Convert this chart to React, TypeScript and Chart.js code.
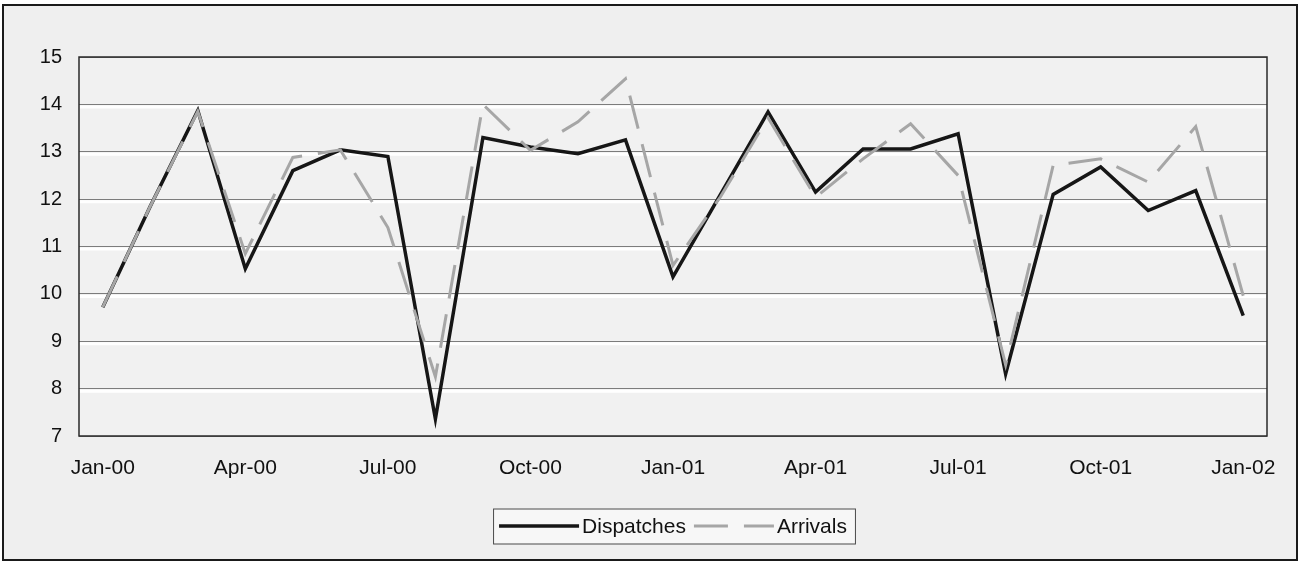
import React, { useEffect, useRef } from "react";
import { Chart, registerables } from "chart.js";

Chart.register(...registerables);

// ---- Data ----
const months: string[] = [
  "Jan-00", "Feb-00", "Mar-00", "Apr-00", "May-00", "Jun-00", "Jul-00", "Aug-00", "Sep-00", "Oct-00", "Nov-00", "Dec-00",
  "Jan-01", "Feb-01", "Mar-01", "Apr-01", "May-01", "Jun-01", "Jul-01", "Aug-01", "Sep-01", "Oct-01", "Nov-01", "Dec-01",
  "Jan-02",
];

const dispatches: number[] = [
  9.72, 11.85, 13.87, 10.53, 12.6, 13.04, 12.9, 7.36, 13.3, 13.1, 12.96, 13.25,
  10.36, 12.1, 13.84, 12.15, 13.06, 13.06, 13.38, 8.31, 12.1, 12.68, 11.76, 12.18,
  9.54,
];

const arrivals: number[] = [
  9.72, 11.85, 13.85, 10.85, 12.88, 13.04, 11.4, 8.25, 14.0, 13.03, 13.63, 14.54,
  10.6, 12.05, 13.72, 12.04, 12.85, 13.59, 12.5, 8.5, 12.71, 12.85, 12.36, 13.53,
  9.96,
];

const seriesNames: string[] = ["Dispatches", "Arrivals"];
const yMin = 7;
const yMax = 15;
const yStep = 1;
const labelEvery = 3;

const FONT = "'Liberation Sans', Arial, Helvetica, sans-serif";
const W = 1299;
const H = 562;

const backgroundPlugin = {
  id: "bgFrame",
  beforeDraw(chart: any) {
    const ctx = chart.ctx;
    const ca = chart.chartArea;
    ctx.save();
    ctx.fillStyle = "#ffffff";
    ctx.fillRect(0, 0, chart.width, chart.height);
    ctx.fillStyle = "#efefef";
    ctx.fillRect(3, 5, 1294, 555);
    ctx.strokeStyle = "#1a1a1a";
    ctx.lineWidth = 2;
    ctx.strokeRect(3, 5, 1294, 555);
    ctx.fillStyle = "#f1f1f1";
    ctx.fillRect(ca.left, ca.top, ca.right - ca.left, ca.bottom - ca.top);
    ctx.restore();
  },
  beforeDatasetsDraw(chart: any) {
    const ctx = chart.ctx;
    const ca = chart.chartArea;
    const ys = chart.scales.y;
    ctx.save();
    // white highlight under each gridline
    ctx.strokeStyle = "#ffffff";
    ctx.lineWidth = 3;
    ys.ticks.forEach((t: any) => {
      if (t.value <= yMin || t.value >= yMax) return;
      const py = ys.getPixelForValue(t.value);
      ctx.beginPath();
      ctx.moveTo(ca.left + 1, py + 2.5);
      ctx.lineTo(ca.right - 1, py + 2.5);
      ctx.stroke();
    });
    // plot border
    ctx.strokeStyle = "#2a2a2a";
    ctx.lineWidth = 1.5;
    ctx.strokeRect(ca.left, ca.top, ca.right - ca.left, ca.bottom - ca.top);
    ctx.restore();
  },
  afterDraw(chart: any) {
    const ctx = chart.ctx;
    const ca = chart.chartArea;
    ctx.save();
    ctx.font = `21px ${FONT}`;
    const sampleW = 80;
    const gapAfterSample = 3;
    const gapBetween = 8;
    const items = chart.data.datasets.map((ds: any) => ({
      label: ds.label,
      color: ds.borderColor,
      width: ds.borderWidth,
      dash: ds.borderDash || [],
      tw: ctx.measureText(ds.label).width,
    }));
    let total = 0;
    items.forEach((it: any, i: number) => {
      total += sampleW + gapAfterSample + it.tw + (i > 0 ? gapBetween : 0);
    });
    const cx = (ca.left + ca.right) / 2;
    const cy = 526;
    const startX = cx - total / 2;
    const padL = 6;
    const padR = 8;
    ctx.fillStyle = "#f7f7f7";
    ctx.fillRect(startX - padL, cy - 17.5, total + padL + padR, 35);
    ctx.strokeStyle = "#4a4a4a";
    ctx.lineWidth = 1;
    ctx.strokeRect(startX - padL + 0.5, cy - 17.5 + 0.5, total + padL + padR, 35);
    let x = startX;
    items.forEach((it: any, i: number) => {
      if (i > 0) x += gapBetween;
      ctx.beginPath();
      ctx.setLineDash(it.dash);
      ctx.strokeStyle = it.color;
      ctx.lineWidth = it.width;
      ctx.moveTo(x, cy);
      ctx.lineTo(x + sampleW, cy);
      ctx.stroke();
      ctx.setLineDash([]);
      x += sampleW + gapAfterSample;
      ctx.fillStyle = "#111111";
      ctx.textBaseline = "middle";
      ctx.textAlign = "left";
      ctx.fillText(it.label, x, cy + 1);
      x += it.tw;
    });
    ctx.restore();
  },
};

export default function App() {
  const canvasRef = useRef<HTMLCanvasElement | null>(null);

  useEffect(() => {
    document.body.style.margin = "0";
    const canvas = canvasRef.current;
    if (!canvas) return;
    const chart = new Chart(canvas, {
      type: "line",
      data: {
        labels: months,
        datasets: [
          {
            label: seriesNames[0],
            data: dispatches,
            borderColor: "#161616",
            backgroundColor: "#161616",
            borderWidth: 3.5,
            pointRadius: 0,
            tension: 0,
            fill: false,
            order: 1,
          },
          {
            label: seriesNames[1],
            data: arrivals,
            borderColor: "#a6a6a6",
            backgroundColor: "#a6a6a6",
            borderWidth: 3,
            borderDash: [34, 16],
            pointRadius: 0,
            tension: 0,
            fill: false,
            order: 0,
          },
        ],
      },
      options: {
        animation: false,
        responsive: false,
        maintainAspectRatio: false,
        layout: { padding: { top: 57, right: 32, left: 0, bottom: 0 } },
        plugins: {
          legend: { display: false },
          title: { display: false },
          tooltip: { enabled: false },
        },
        scales: {
          x: {
            type: "category",
            offset: true,
            grid: { display: false, drawTicks: false },
            border: { display: false },
            ticks: {
              autoSkip: false,
              maxRotation: 0,
              minRotation: 0,
              padding: 20,
              color: "#111111",
              font: { family: FONT, size: 21 },
              callback: (_v: any, i: number) => (i % labelEvery === 0 ? months[i] : ""),
            },
            afterFit: (scale: any) => {
              scale.height = H - 436;
            },
          },
          y: {
            min: yMin,
            max: yMax,
            grid: { color: "#7c7c7c", lineWidth: 1, drawTicks: false },
            border: { display: false },
            ticks: {
              stepSize: yStep,
              padding: 17,
              color: "#111111",
              font: { family: FONT, size: 20 },
            },
            afterFit: (scale: any) => {
              scale.width = 79;
            },
          },
        },
      },
      plugins: [backgroundPlugin],
    });
    return () => chart.destroy();
  }, []);

  return (
    <div style={{ width: W, height: H, position: "relative" }}>
      <canvas ref={canvasRef} width={W} height={H} style={{ display: "block" }} />
    </div>
  );
}
